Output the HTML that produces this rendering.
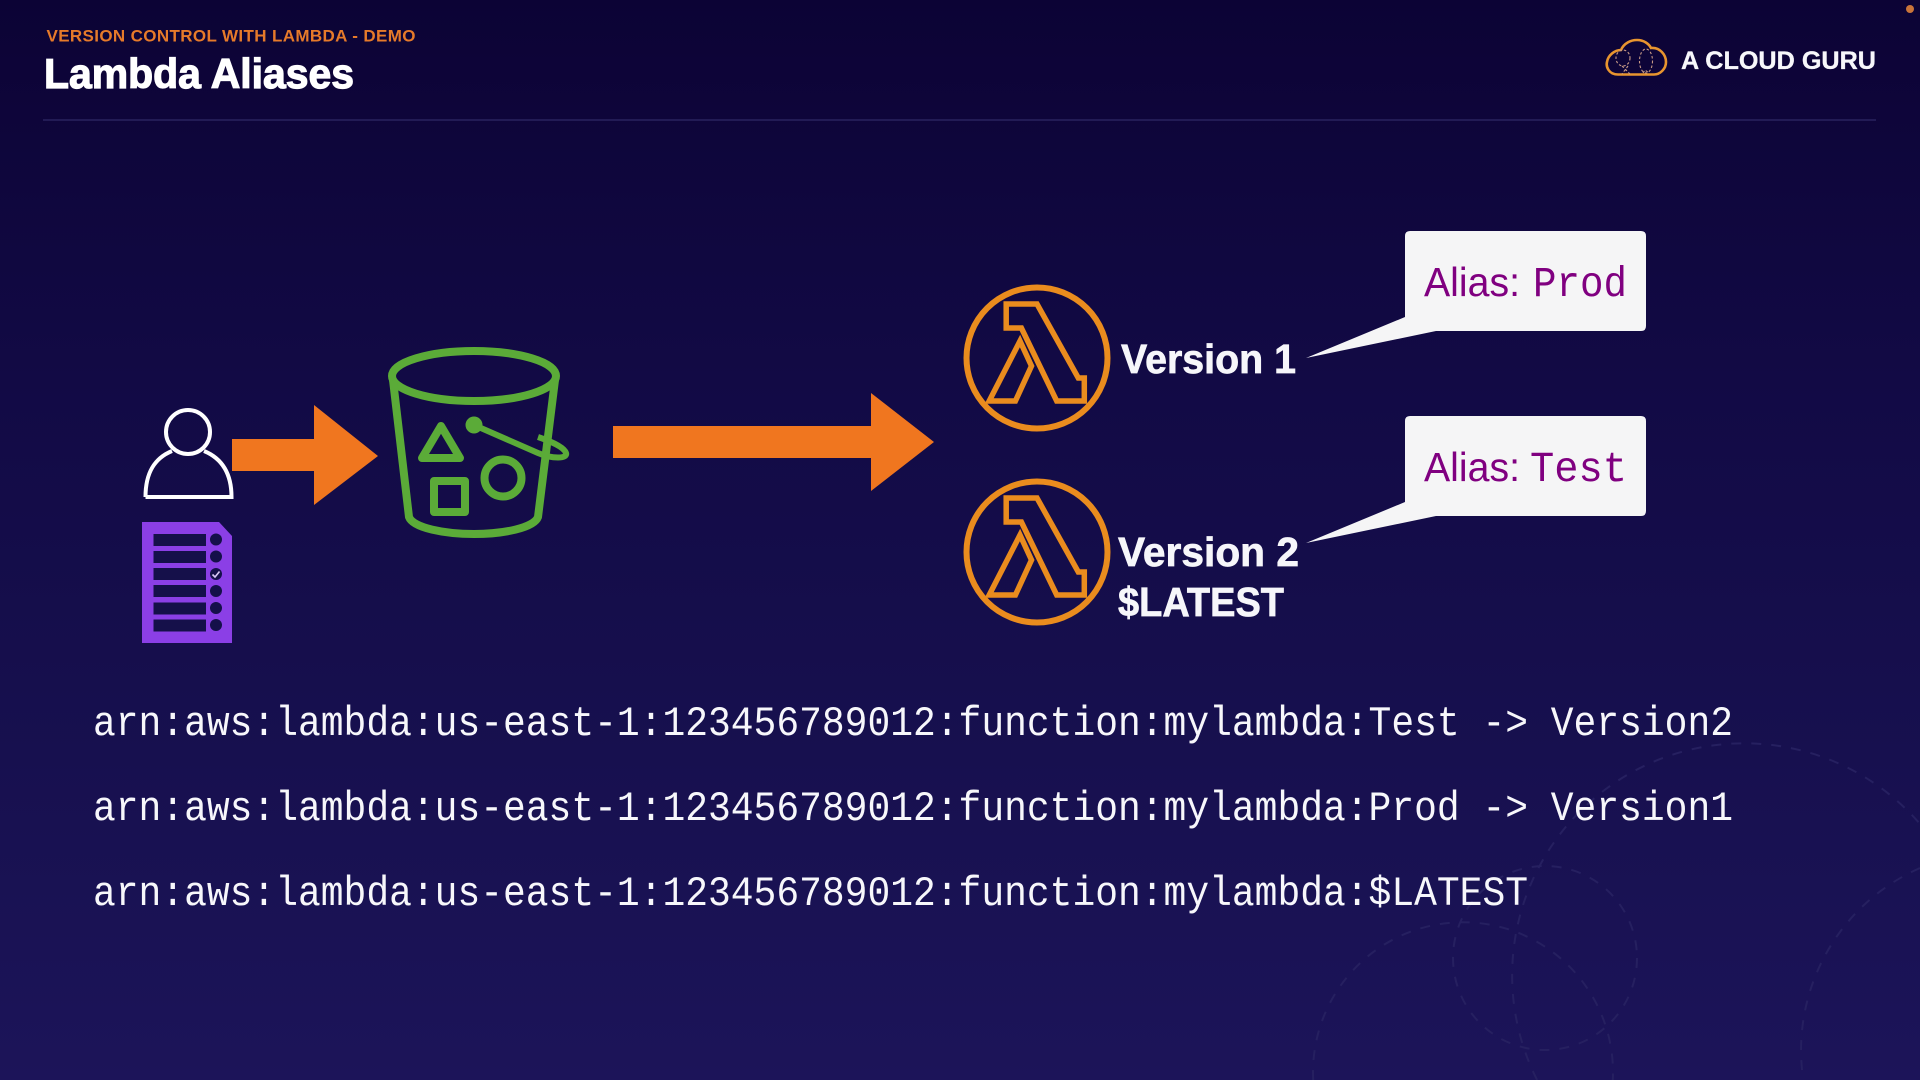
<!DOCTYPE html>
<html lang="en">
<head>
<meta charset="utf-8">
<title>Lambda Aliases</title>
<style>
html,body{margin:0;padding:0;width:1920px;height:1080px;overflow:hidden;background:#130b47}
svg{display:block;position:absolute;left:0;top:0}
.sans{font-family:"Liberation Sans",sans-serif}
.mono{font-family:"Liberation Mono",monospace;font-size:42px;fill:#f7f7fb}
.ver{font-family:"Liberation Sans",sans-serif;font-weight:700;font-size:41px;fill:#f6f6fa;stroke:#f6f6fa;stroke-width:.7px}
.alias{font-family:"Liberation Sans",sans-serif;font-size:41px;fill:#800080}
.aliasm{font-family:"Liberation Mono",monospace;font-size:43px;fill:#800080}
</style>
</head>
<body>
<svg width="1920" height="1080" viewBox="0 0 1920 1080" xmlns="http://www.w3.org/2000/svg">
<defs>
<linearGradient id="bg" x1="0" y1="0" x2="0" y2="1">
<stop offset="0" stop-color="#0c0335"/>
<stop offset=".35" stop-color="#120a45"/>
<stop offset=".7" stop-color="#17104f"/>
<stop offset="1" stop-color="#1c1459"/>
</linearGradient>
</defs>
<rect width="1920" height="1080" fill="url(#bg)"/>

<!-- background dashed circles -->
<g fill="none" stroke="#262060" stroke-width="2" stroke-dasharray="10 10">
<path d="M1313.200 1080A150 150 0 1 1 1612.800 1080"/>
<circle cx="1545" cy="958" r="92"/>
<path d="M1537.100 1080A232 232 0 0 1 1920 824"/>
<path d="M1920 868A199 199 0 0 0 1803.300 1080"/>
</g>

<!-- header -->
<text class="sans" x="46.500" y="41.500" font-size="17" font-weight="700" fill="#e67a2a" textLength="369" lengthAdjust="spacing">VERSION CONTROL WITH LAMBDA - DEMO</text>
<text class="sans" x="44" y="88" font-size="42" font-weight="700" fill="#fff" stroke="#fff" stroke-width="1.200" textLength="310" lengthAdjust="spacingAndGlyphs">Lambda Aliases</text>
<rect x="43" y="119" width="1833" height="2" fill="#221b55"/>

<!-- logo -->
<path d="M1618 74.500C1608 74.500 1606 66 1607 62C1608 55 1615 50 1621 50C1624 43 1631 40 1637 40C1644 40 1649 44 1651 48C1660 47 1666 55 1666 62C1666 69 1660 74.500 1654 74.500Z" fill="none" stroke="#e8952f" stroke-width="2.600"/>
<g fill="none" stroke="#c89a86" stroke-width="1.100" stroke-dasharray="2.500 2">
<ellipse cx="1623" cy="58" rx="7" ry="8"/>
<ellipse cx="1646" cy="61" rx="6.500" ry="12"/>
<path d="M1622 66L1630 74M1628 66L1622 74M1643 73L1645 70L1649 73"/>
</g>
<text class="sans" x="1681" y="69" font-size="25" font-weight="700" fill="#f7f7fb" stroke="#f7f7fb" stroke-width=".3" textLength="195" lengthAdjust="spacingAndGlyphs">A CLOUD GURU</text>
<circle cx="1910" cy="9" r="4" fill="#c8743a"/>

<!-- person -->
<g fill="none" stroke="#fff" stroke-width="4">
<circle cx="188" cy="432" r="22"/>
<path d="M145.500 497H231.500C231.500 472 221 458 204 451M145.500 497C145.500 472 155 458 172 451"/>
</g>

<!-- document -->
<path d="M142 522H219L232 536V643H142Z" fill="#8b3fe6"/>
<g fill="#15104a">
<rect x="153.500" y="534" width="52.500" height="12"/>
<rect x="153.500" y="551" width="52.500" height="12"/>
<rect x="153.500" y="568" width="52.500" height="12"/>
<rect x="153.500" y="585" width="52.500" height="12"/>
<rect x="153.500" y="602.500" width="52.500" height="12"/>
<rect x="153.500" y="619.500" width="52.500" height="12"/>
<circle cx="216" cy="539.500" r="6"/>
<circle cx="216" cy="556.500" r="6"/>
<circle cx="216" cy="574" r="6"/>
<circle cx="216" cy="591" r="6"/>
<circle cx="216" cy="608" r="6"/>
<circle cx="216" cy="625" r="6"/>
</g>
<path d="M212.500 574.500L215 577L219.500 571.500" fill="none" stroke="#d9c8f5" stroke-width="1.600"/>

<!-- arrows -->
<path d="M232 439H314V405L378 456L314 505V471H232Z" fill="#f0761f"/>
<path d="M613 426H871V393L934 442L871 491V458H613Z" fill="#f0761f"/>

<!-- bucket -->
<g fill="none" stroke="#5bab38" stroke-width="8" stroke-linejoin="round">
<ellipse cx="474" cy="376" rx="82" ry="25"/>
<path d="M393 380L409 517C413 528 445 534 474 534C503 534 534 528 538 517L555 380"/>
<path d="M441 426L422 458H460Z"/>
<rect x="434" y="481" width="31" height="31"/>
<circle cx="503" cy="478" r="18.500"/>
<path d="M474 425L538 453C552 459 568 459 566 453C564 447 550 441 538 437" stroke-width="6"/>
</g>
<circle cx="474" cy="425" r="8.500" fill="#5bab38"/>

<!-- lambda 1 -->
<g fill="none" stroke="#ea8c1e" transform="translate(1037 358)">
<circle r="70.500" stroke-width="6"/>
<path d="M-30.800 -54H0L41.300 20H47.300V43H19.700L-15.600 -30H-30.800ZM-17 -17L-5.500 8L-21.600 43H-47.800Z" stroke-width="5.500"/>
</g>
<!-- lambda 2 -->
<g fill="none" stroke="#ea8c1e" transform="translate(1037 552)">
<circle r="70.500" stroke-width="6"/>
<path d="M-30.800 -54H0L41.300 20H47.300V43H19.700L-15.600 -30H-30.800ZM-17 -17L-5.500 8L-21.600 43H-47.800Z" stroke-width="5.500"/>
</g>

<!-- version labels -->
<text class="ver" x="1121" y="373" textLength="175" lengthAdjust="spacingAndGlyphs">Version 1</text>
<text class="ver" x="1118" y="566" textLength="181" lengthAdjust="spacingAndGlyphs">Version 2</text>
<text class="ver" x="1118" y="616" textLength="166" lengthAdjust="spacingAndGlyphs">$LATEST</text>

<!-- callouts -->
<path d="M1410 231H1641Q1646 231 1646 236V326Q1646 331 1641 331H1436L1306 358L1405 317V236Q1405 231 1410 231Z" fill="#f5f5f6"/>
<path d="M1410 416H1641Q1646 416 1646 421V511Q1646 516 1641 516H1436L1306 543L1405 502V421Q1405 416 1410 416Z" fill="#f5f5f6"/>
<text class="alias" x="1424" y="296" textLength="96" lengthAdjust="spacingAndGlyphs">Alias:</text>
<text class="aliasm" x="1533" y="296" textLength="94" lengthAdjust="spacingAndGlyphs">Prod</text>
<text class="alias" x="1424" y="481" textLength="96" lengthAdjust="spacingAndGlyphs">Alias:</text>
<text class="aliasm" x="1530" y="481" textLength="97" lengthAdjust="spacingAndGlyphs">Test</text>

<!-- ARNs -->
<text class="mono" x="93" y="735" textLength="1640" lengthAdjust="spacingAndGlyphs">arn:aws:lambda:us-east-1:123456789012:function:mylambda:Test -&gt; Version2</text>
<text class="mono" x="93" y="820" textLength="1640" lengthAdjust="spacingAndGlyphs">arn:aws:lambda:us-east-1:123456789012:function:mylambda:Prod -&gt; Version1</text>
<text class="mono" x="93" y="905" textLength="1435" lengthAdjust="spacingAndGlyphs">arn:aws:lambda:us-east-1:123456789012:function:mylambda:$LATEST</text>
</svg>
</body>
</html>
